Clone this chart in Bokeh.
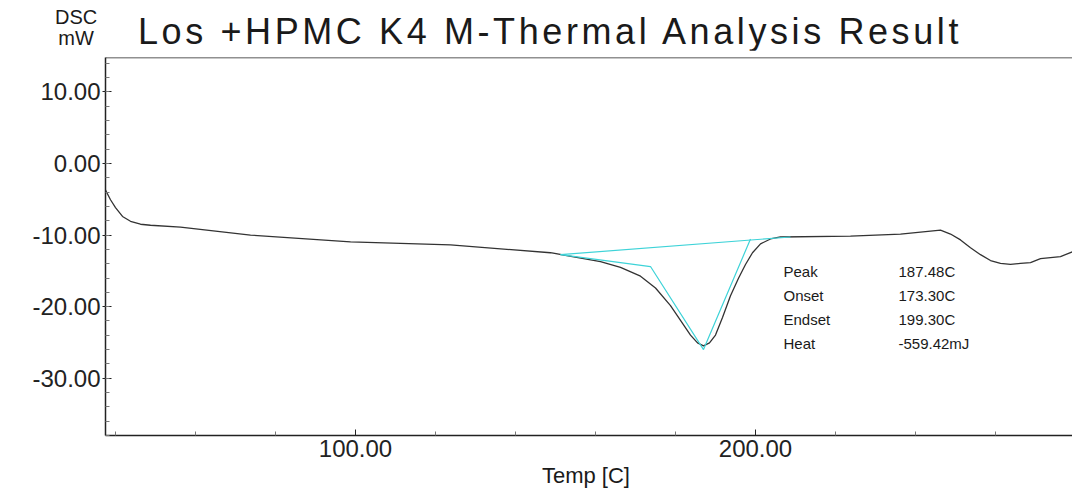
from bokeh.plotting import figure
from bokeh.models import Range1d, FixedTicker, Label, Span, Div
from bokeh.layouts import column
from bokeh.embed import file_html
from bokeh.resources import INLINE

temp = [37.5,38.75,40,41.75,43.75,46.25,48.75,56.25,73.75,98.75,123.75,148.75,161.25,166.25,171.25,175,178.75,181.25,183.75,185.5,187,188.5,190,191.75,193.75,195.75,197.5,199.25,201.25,203.75,206.25,223.75,236.25,246.25,248.75,251.25,253.75,256.25,258.75,261.25,263.75,266.25,268.75,271.25,276.25,279.25]
dsc = [-3.70,-5.07,-6.16,-7.40,-8.08,-8.49,-8.63,-8.9,-10.0,-10.96,-11.37,-12.47,-13.70,-14.52,-15.75,-17.4,-19.86,-21.92,-23.97,-25.07,-25.48,-25.07,-23.97,-21.51,-18.49,-16.03,-14.11,-12.47,-11.23,-10.55,-10.27,-10.14,-9.86,-9.32,-9.86,-10.68,-11.78,-12.74,-13.56,-13.97,-14.11,-13.97,-13.84,-13.29,-13.01,-12.33]
base_x = [151.25, 208.75]
base_y = [-12.74, -10.27]
tan_x = [151.25, 173.75, 187.0, 198.75]
tan_y = [-12.74, -14.4, -26.0, -10.55]
info_names = ["Peak", "Onset", "Endset", "Heat"]
info_vals = ["187.48C", "173.30C", "199.30C", "-559.42mJ"]
title = "Los +HPMC K4 M-Thermal Analysis Result"

F = "Liberation Sans"
W = 1072
TOP = 40
OFF = 50  # page y where figure canvas starts
H = 440
p = figure(width=W, height=H, output_backend="svg", toolbar_location=None,
           x_range=Range1d(37.5, 37.5 + (W - 105) / 4.0), y_range=Range1d(-38.0, 14.8),
           min_border_left=105, min_border_top=57 - OFF, min_border_bottom=H - (443 - OFF), min_border_right=0)
p.grid.visible = False
p.outline_line_color = None
p.line(temp, dsc, color="#333333", line_width=1.3)
p.line(base_x, base_y, color="#3ed3d8", line_width=1.2)
p.line(tan_x, tan_y, color="#3ed3d8", line_width=1.2)

p.xaxis.ticker = FixedTicker(ticks=[100, 200], minor_ticks=[40, 60, 80, 120, 140, 160, 180, 220, 240, 260])
p.yaxis.ticker = FixedTicker(ticks=[-30, -20, -10, 0, 10], minor_ticks=list(range(-38, 15, 2)))
for ax in (p.xaxis[0], p.yaxis[0]):
    ax.major_label_text_font = F
    ax.major_label_text_font_size = "24px"
    ax.major_label_text_color = "#222222"
    ax.axis_line_color = "#222222"
    ax.axis_line_width = 1.5
    ax.major_tick_line_color = "#222222"
    ax.minor_tick_line_color = "#777777"
p.xaxis.major_tick_in = 6
p.xaxis.major_tick_out = 0
p.xaxis.minor_tick_in = 4
p.xaxis.minor_tick_out = 0
p.yaxis.major_tick_out = 3
p.yaxis.major_tick_in = 6
p.yaxis.minor_tick_in = 4
p.yaxis.minor_tick_out = 0
p.yaxis.major_label_overrides = {-30: "-30.00", -20: "-20.00", -10: "-10.00", 0: "0.00", 10: "10.00"}
p.xaxis.major_label_overrides = {100: "100.00", 200: "200.00"}
p.yaxis.major_label_standoff = 2
p.xaxis.major_label_standoff = 4
p.xaxis.axis_label = "Temp  [C]"
p.xaxis.axis_label_text_font = F
p.xaxis.axis_label_text_font_style = "normal"
p.xaxis.axis_label_text_font_size = "22px"
p.xaxis.axis_label_text_color = "#1a1a1a"
p.xaxis.axis_label_standoff = 3

p.add_layout(Span(location=14.8, dimension="width", line_color="#222222", line_width=1.5))

for i, (n, v) in enumerate(zip(info_names, info_vals)):
    yy = 270 + i * 24
    for px, t in ((783, n), (898, v)):
        p.add_layout(Label(x=px - 105, y=443 - yy, x_units="screen", y_units="screen", text=t,
                           text_font=F, text_font_size="15px", text_baseline="top",
                           text_color="#1a1a1a"))

header = Div(width=W, height=TOP, text=(
    f'<div style="position:relative;width:{W}px;height:{TOP}px;font-family:\'{F}\';color:#1a1a1a">'
    '<div style="position:absolute;left:50px;top:2px;font-size:20px;line-height:21px;text-align:center">DSC<br>mW</div>'
    f'<div style="position:absolute;left:133px;top:8px;font-size:36px;line-height:38px;white-space:nowrap;letter-spacing:3.6px">{title}</div>'
    '</div>'))

layout = column(header, p, spacing=0)
open("out.html", "w").write(file_html(layout, INLINE))
